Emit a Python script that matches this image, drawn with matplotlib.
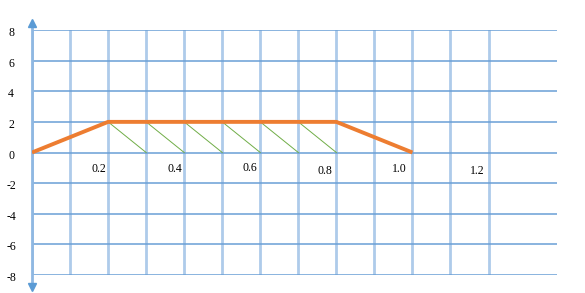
import numpy as np
import matplotlib
matplotlib.use("Agg")
import matplotlib.pyplot as plt

# trapezoid profile
px = [0, 0.2, 0.8, 1.0]
py = [0, 2, 2, 0]

# hatch segments under the flat top
hatch_x0 = [0.2, 0.3, 0.4, 0.5, 0.6, 0.7]
hatch_dx = 0.1

x_grid = np.round(np.arange(0, 1.21, 0.1), 2)
y_ticks = [8, 6, 4, 2, 0, -2, -4, -6, -8]
x_labels = ["0.2", "0.4", "0.6", "0.8", "1.0", "1.2"]
# label anchor positions (staggered as in the original)
x_lab_pos = [0.176, 0.376, 0.574, 0.771, 0.966, 1.171]
x_lab_y = [-1.05, -1.11, -0.98, -1.18, -1.11, -1.24]

plt.rcParams['font.family'] = ['Liberation Serif', 'DejaVu Serif']

fig = plt.figure(figsize=(5.85, 2.93), dpi=100)
ax = fig.add_axes([32/585, 1 - 275/293, 525/585, 245/293])
ax.set_xlim(0, 1.38)
ax.set_ylim(-8, 8)
ax.axis("off")

for xv in x_grid:
    ax.plot([xv, xv], [-8, 8], color="#aecbea", lw=2, zorder=1)
for yv in y_ticks:
    ax.plot([0, 1.38], [yv, yv], color="#6a9fd6", lw=1.1, zorder=1)

# y axis with arrows
ax.plot([0, 0], [-8.6, 8.3], color="#8fb8e2", lw=2, clip_on=False, zorder=2)
ax.plot([0], [8.45], marker="^", color="#5b9bd5", ms=6, clip_on=False, zorder=3)
ax.plot([0], [-8.8], marker="v", color="#5b9bd5", ms=6, clip_on=False, zorder=3)

for x0 in hatch_x0:
    ax.plot([x0, x0 + hatch_dx], [2, 0], color="#70ad47", lw=0.7, zorder=2)

ax.plot(px, py, color="#ed7d31", lw=2.8, zorder=4, solid_capstyle="butt")

for yv in y_ticks:
    ax.text(-0.055, yv - 0.2, str(yv), ha="center", va="center", fontsize=8.5, clip_on=False)

for lab, xl, yl in zip(x_labels, x_lab_pos, x_lab_y):
    ax.text(xl, yl, lab, ha="center", va="center", fontsize=8.5)

fig.savefig("out.png", dpi=100)
